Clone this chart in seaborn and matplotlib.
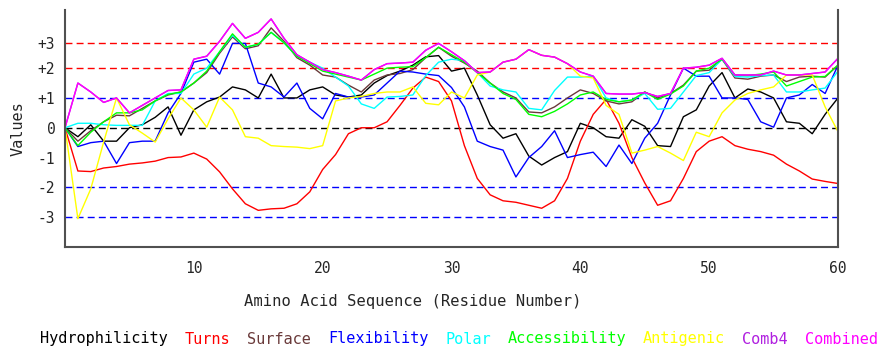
import numpy as np
import pandas as pd
import matplotlib
matplotlib.use("Agg")
import matplotlib.pyplot as plt
import seaborn as sns

sns.set_style("white")
plt.rcParams["font.family"] = ["DejaVu Sans Mono", "DejaVu Sans"]

# residue positions 0..60
residues = list(range(61))

hydrophilicity = [0, -0.3, 0.1, -0.45, -0.45, 0.0, 0.1, 0.35, 0.7, -0.25,
                  0.6, 0.87, 1.03, 1.37, 1.27, 1.0, 1.8, 1.0, 1.0, 1.27,
                  1.37, 1.1, 1.03, 1.1, 1.5, 1.75, 1.9, 2.1, 2.38, 2.42,
                  1.9, 2.0, 1.1, 0.1, -0.35, -0.2, -0.95, -1.25, -1.0, -0.8,
                  0.15, 0.0, -0.3, -0.35, 0.27, 0.05, -0.6, -0.63, 0.37, 0.6,
                  1.4, 1.85, 1.0, 1.3, 1.2, 1.0, 0.2, 0.15, -0.2, 0.45, 1.0]

turns = [0, -1.45, -1.47, -1.35, -1.3, -1.22, -1.18, -1.12, -1.0, -0.98,
         -0.85, -1.05, -1.48, -2.05, -2.55, -2.77, -2.72, -2.7, -2.55, -2.15,
         -1.4, -0.9, -0.2, 0.0, 0.0, 0.2, 0.75, 1.33, 1.7, 1.55,
         0.9, -0.6, -1.7, -2.25, -2.45, -2.5, -2.6, -2.7, -2.45, -1.7,
         -0.45, 0.45, 0.95, 0.15, -1.0, -1.85, -2.6, -2.45, -1.7, -0.8,
         -0.45, -0.3, -0.6, -0.72, -0.8, -0.92, -1.22, -1.45, -1.72, -1.8, -1.87]

surface = [0, -0.45, -0.1, 0.2, 0.42, 0.4, 0.65, 0.9, 1.1, 1.2,
           1.5, 1.85, 2.5, 3.05, 2.65, 2.75, 3.35, 2.9, 2.35, 2.1,
           1.77, 1.7, 1.43, 1.2, 1.6, 1.77, 1.82, 1.95, 2.35, 2.7,
           2.4, 2.17, 1.9, 1.5, 1.2, 1.0, 0.53, 0.5, 0.7, 1.0,
           1.27, 1.15, 0.9, 0.8, 0.87, 1.2, 1.0, 1.15, 1.43, 1.9,
           1.93, 2.3, 1.67, 1.63, 1.73, 1.77, 1.55, 1.7, 1.73, 1.7, 2.1]

flexibility = [0, -0.63, -0.5, -0.45, -1.2, -0.5, -0.45, -0.45, 0.5, 1.15,
               2.2, 2.3, 1.8, 2.83, 2.83, 1.5, 1.37, 1.03, 1.5, 0.65,
               0.3, 1.15, 1.03, 1.03, 1.1, 1.5, 1.9, 1.87, 1.8, 1.75,
               1.35, 0.7, -0.45, -0.63, -0.75, -1.65, -1.0, -0.63, -0.1, -1.0,
               -0.9, -0.82, -1.3, -0.58, -1.2, -0.35, 0.15, 1.1, 2.0, 1.73,
               1.73, 1.0, 1.0, 0.95, 0.2, 0.02, 1.0, 1.1, 1.45, 1.15, 2.1]

polar = [0, 0.15, 0.15, 0.1, 0.08, 0.08, 0.08, 0.9, 1.15, 1.15,
         1.8, 2.0, 2.55, 3.1, 2.7, 2.8, 3.2, 2.85, 2.4, 2.2,
         2.0, 1.7, 1.4, 0.8, 0.65, 1.03, 1.05, 1.1, 1.75, 2.2,
         2.3, 2.25, 1.85, 1.4, 1.27, 1.2, 0.65, 0.6, 1.25, 1.7,
         1.7, 1.73, 1.0, 0.87, 0.93, 1.15, 0.62, 0.65, 1.2, 1.75,
         1.85, 2.3, 1.72, 1.7, 1.75, 1.77, 1.2, 1.2, 1.27, 1.33, 1.9]

accessibility = [0, -0.6, -0.15, 0.2, 0.5, 0.5, 0.6, 0.9, 1.12, 1.2,
                 1.5, 1.9, 2.55, 3.15, 2.7, 2.8, 3.2, 2.85, 2.4, 2.15,
                 1.9, 1.8, 1.7, 1.6, 1.8, 2.0, 2.03, 2.05, 2.35, 2.7,
                 2.45, 2.2, 1.85, 1.5, 1.15, 0.95, 0.45, 0.37, 0.55, 0.8,
                 1.1, 1.2, 0.95, 0.87, 0.93, 1.2, 0.95, 1.13, 1.4, 1.9,
                 2.0, 2.3, 1.77, 1.75, 1.8, 1.87, 1.4, 1.55, 1.7, 1.72, 2.1]

antigenic = [0, -3.05, -2.05, -0.48, 1.0, 0.1, -0.18, -0.48, 0.3, 1.0,
             0.6, 0.02, 1.03, 0.6, -0.3, -0.35, -0.6, -0.63, -0.65, -0.7,
             -0.6, 0.9, 1.0, 1.05, 1.15, 1.2, 1.2, 1.37, 0.82, 0.77,
             1.2, 1.0, 1.77, 1.87, 2.2, 2.3, 2.62, 2.43, 2.37, 2.15,
             1.73, 1.67, 0.75, 0.45, -0.85, -0.75, -0.63, -0.85, -1.1, -0.15,
             -0.3, 0.5, 0.93, 1.15, 1.27, 1.37, 1.77, 1.77, 1.77, 0.7, -0.13]

combined = [0, 1.5, 1.2, 0.85, 1.0, 0.5, 0.75, 1.0, 1.25, 1.27,
            2.3, 2.4, 2.9, 3.5, 3.0, 3.2, 3.65, 3.0, 2.45, 2.2,
            1.95, 1.85, 1.73, 1.6, 1.95, 2.15, 2.17, 2.2, 2.6, 2.83,
            2.55, 2.25, 1.85, 1.87, 2.2, 2.3, 2.62, 2.43, 2.37, 2.15,
            1.87, 1.73, 1.15, 1.13, 1.13, 1.18, 1.05, 1.15, 2.0, 2.03,
            2.1, 2.33, 1.77, 1.77, 1.77, 1.9, 1.77, 1.77, 1.82, 1.87, 2.33]

# Comb4 lies under Combined in the picture
comb4 = list(combined)

series = [
    ("Hydrophilicity", hydrophilicity, "#000000"),
    ("Turns", turns, "#ff0000"),
    ("Surface", surface, "#6a3a3a"),
    ("Flexibility", flexibility, "#0000ff"),
    ("Polar", polar, "#00ffff"),
    ("Accessibility", accessibility, "#00ff00"),
    ("Antigenic", antigenic, "#ffff00"),
    ("Comb4", comb4, "#b020e0"),
    ("Combined", combined, "#ff00ff"),
]

ref_levels = [2.83, 2, 1, 0, -2, -3]
ref_colors = ["#ff0000", "#ff0000", "#0000ff", "#000000", "#0000ff", "#0000ff"]
ytick_pos = [-3, -2, -1, 0, 1, 2, 2.83]
ytick_lab = ["-3", "-2", "-1", "0", "+1", "+2", "+3"]

fig = plt.figure(figsize=(8.81, 3.52), dpi=100)
ax = fig.add_axes([65 / 881, 1 - 247 / 352, 773 / 881, 237 / 352])

for lev, col in zip(ref_levels, ref_colors):
    ax.axhline(lev, color=col, lw=1.0, dashes=(5, 3), zorder=1)

handles = []
for name, vals, col in series:
    df = pd.DataFrame({"residue": residues, "value": vals})
    sns.lineplot(data=df, x="residue", y="value", color=col, lw=1.0, ax=ax, label=name, legend=False)
    handles.append(ax.lines[-1])

ax.set_xlim(0, 60)
ax.set_ylim(-4.0, 3.95)
ax.set_xticks([10, 20, 30, 40, 50, 60])
ax.set_yticks(ytick_pos)
ax.set_yticklabels(ytick_lab)
ax.tick_params(axis="x", direction="inout", length=10, width=1, color="#404040", labelsize=10.5, pad=5)
ax.tick_params(axis="y", length=0, labelsize=10.5, pad=7)

for side in ["left", "right", "bottom"]:
    ax.spines[side].set_color("#505050")
    ax.spines[side].set_linewidth(1.5)
ax.spines["top"].set_visible(False)

ax.set_xlabel("Amino Acid Sequence (Residue Number)", fontsize=11.2)
ax.xaxis.set_label_coords(0.45, -0.2)
ax.set_ylabel("Values", fontsize=11)
ax.yaxis.set_label_coords(-0.051, 0.5)

fig.legend(handles, [s[0] for s in series], loc="center", bbox_to_anchor=(0.521, 1 - 339 / 352),
           ncol=9, frameon=False, handlelength=0, handletextpad=0, columnspacing=1.1,
           labelcolor="linecolor", fontsize=11)

fig.savefig("out.png", dpi=100)
